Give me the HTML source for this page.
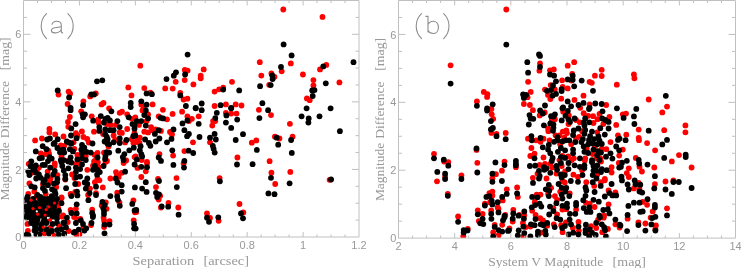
<!DOCTYPE html>
<html><head><meta charset="utf-8"><style>
html,body{margin:0;padding:0;background:#fff;width:741px;height:268px;overflow:hidden}
svg{display:block;will-change:transform}
.tl{font-family:"Liberation Sans",sans-serif;font-size:11px;fill:#999999}
.at{font-family:"Liberation Serif",serif;font-size:12px;fill:#999999}
.pl{font-family:"Liberation Sans",sans-serif;font-size:30px;fill:#9c9c9c}
</style></head><body>
<svg width="741" height="268" viewBox="0 0 741 268">
<defs>
<clipPath id="ca"><rect x="23.5" y="0.5" width="335.5" height="236.5"/></clipPath>
<clipPath id="cb"><rect x="398.5" y="0.5" width="337.0" height="237.6"/></clipPath>
</defs>
<g clip-path="url(#ca)"><g fill="#f00"><circle cx="283.3" cy="9.5" r="2.9"/><circle cx="322.5" cy="16.9" r="2.9"/><circle cx="259.8" cy="62.2" r="2.9"/><circle cx="290.8" cy="63.4" r="2.9"/><circle cx="281.7" cy="71.3" r="2.9"/><circle cx="320" cy="69.4" r="2.9"/><circle cx="326.3" cy="64.9" r="2.9"/><circle cx="140.3" cy="65.7" r="2.9"/><circle cx="184.8" cy="70" r="2.9"/><circle cx="187.6" cy="70.6" r="2.9"/><circle cx="203.7" cy="69.4" r="2.9"/><circle cx="58.5" cy="94.6" r="2.9"/><circle cx="68.6" cy="91.6" r="2.9"/><circle cx="70.1" cy="93.7" r="2.9"/><circle cx="67.6" cy="104" r="2.9"/><circle cx="83.4" cy="101.3" r="2.9"/><circle cx="90.2" cy="96.4" r="2.9"/><circle cx="95.8" cy="93.4" r="2.9"/><circle cx="101.5" cy="104.4" r="2.9"/><circle cx="103.5" cy="102.9" r="2.9"/><circle cx="128.3" cy="87.4" r="2.9"/><circle cx="131.5" cy="95.4" r="2.9"/><circle cx="200.7" cy="75.7" r="2.9"/><circle cx="200.7" cy="78.3" r="2.9"/><circle cx="175.7" cy="81.8" r="2.9"/><circle cx="184.7" cy="80.1" r="2.9"/><circle cx="193.4" cy="84.4" r="2.9"/><circle cx="165.2" cy="88.4" r="2.9"/><circle cx="172.7" cy="88.6" r="2.9"/><circle cx="144.3" cy="88.1" r="2.9"/><circle cx="150.4" cy="92.7" r="2.9"/><circle cx="141.3" cy="104.4" r="2.9"/><circle cx="152.6" cy="104.4" r="2.9"/><circle cx="143.6" cy="107.8" r="2.9"/><circle cx="180.3" cy="93" r="2.9"/><circle cx="183.6" cy="99.5" r="2.9"/><circle cx="187.4" cy="98.7" r="2.9"/><circle cx="214.6" cy="91.6" r="2.9"/><circle cx="219.1" cy="89.3" r="2.9"/><circle cx="223.2" cy="87.7" r="2.9"/><circle cx="232" cy="81.8" r="2.9"/><circle cx="214.6" cy="106" r="2.9"/><circle cx="225.9" cy="104.4" r="2.9"/><circle cx="235.7" cy="104.4" r="2.9"/><circle cx="241.5" cy="105.5" r="2.9"/><circle cx="261.3" cy="75.6" r="2.9"/><circle cx="271.4" cy="73.3" r="2.9"/><circle cx="274.5" cy="76.8" r="2.9"/><circle cx="269.2" cy="84.8" r="2.9"/><circle cx="302.9" cy="74.5" r="2.9"/><circle cx="313.4" cy="80.1" r="2.9"/><circle cx="313.4" cy="85.4" r="2.9"/><circle cx="306.9" cy="98.4" r="2.9"/><circle cx="309.7" cy="100.2" r="2.9"/><circle cx="339.4" cy="82.4" r="2.9"/><circle cx="81.2" cy="111.3" r="2.9"/><circle cx="69.8" cy="117" r="2.9"/><circle cx="68" cy="121.9" r="2.9"/><circle cx="68.3" cy="126.8" r="2.9"/><circle cx="91.7" cy="116.3" r="2.9"/><circle cx="109.1" cy="108.3" r="2.9"/><circle cx="98.1" cy="119.6" r="2.9"/><circle cx="98.5" cy="122.6" r="2.9"/><circle cx="106.8" cy="124.1" r="2.9"/><circle cx="110.6" cy="124.9" r="2.9"/><circle cx="94" cy="131.7" r="2.9"/><circle cx="81.9" cy="131.4" r="2.9"/><circle cx="75.9" cy="133.2" r="2.9"/><circle cx="77.4" cy="135.5" r="2.9"/><circle cx="83.4" cy="137" r="2.9"/><circle cx="87.2" cy="138.9" r="2.9"/><circle cx="73.6" cy="142.3" r="2.9"/><circle cx="55.2" cy="134.4" r="2.9"/><circle cx="49.4" cy="129" r="2.9"/><circle cx="49.4" cy="132.4" r="2.9"/><circle cx="63.5" cy="136.5" r="2.9"/><circle cx="41.9" cy="138.5" r="2.9"/><circle cx="35.1" cy="140.4" r="2.9"/><circle cx="115.9" cy="124.9" r="2.9"/><circle cx="119.7" cy="112.8" r="2.9"/><circle cx="122" cy="111.7" r="2.9"/><circle cx="127.2" cy="114.3" r="2.9"/><circle cx="131.8" cy="118.8" r="2.9"/><circle cx="127.2" cy="129" r="2.9"/><circle cx="119.7" cy="132.4" r="2.9"/><circle cx="121.9" cy="132.9" r="2.9"/><circle cx="103.1" cy="134" r="2.9"/><circle cx="113.6" cy="135.5" r="2.9"/><circle cx="115.1" cy="140" r="2.9"/><circle cx="131.8" cy="139.2" r="2.9"/><circle cx="142.5" cy="110.5" r="2.9"/><circle cx="148.1" cy="114.3" r="2.9"/><circle cx="146.6" cy="121.1" r="2.9"/><circle cx="135.3" cy="117.3" r="2.9"/><circle cx="139" cy="124.9" r="2.9"/><circle cx="151.1" cy="127.1" r="2.9"/><circle cx="144.3" cy="131.7" r="2.9"/><circle cx="148.1" cy="132.4" r="2.9"/><circle cx="151.9" cy="130.2" r="2.9"/><circle cx="155.7" cy="129.4" r="2.9"/><circle cx="160.9" cy="130.9" r="2.9"/><circle cx="134.5" cy="133.2" r="2.9"/><circle cx="139.8" cy="137.7" r="2.9"/><circle cx="137.5" cy="140.7" r="2.9"/><circle cx="135.3" cy="142.3" r="2.9"/><circle cx="170" cy="132" r="2.9"/><circle cx="172" cy="134.4" r="2.9"/><circle cx="162.9" cy="109.8" r="2.9"/><circle cx="172.6" cy="113.9" r="2.9"/><circle cx="158.7" cy="116.3" r="2.9"/><circle cx="167" cy="119.3" r="2.9"/><circle cx="182.1" cy="111.7" r="2.9"/><circle cx="198.7" cy="116.3" r="2.9"/><circle cx="187.4" cy="116.3" r="2.9"/><circle cx="191.9" cy="118.8" r="2.9"/><circle cx="188.9" cy="121.1" r="2.9"/><circle cx="193" cy="142.3" r="2.9"/><circle cx="213.1" cy="121.1" r="2.9"/><circle cx="215.3" cy="121.1" r="2.9"/><circle cx="212.3" cy="125.6" r="2.9"/><circle cx="210" cy="142.3" r="2.9"/><circle cx="225.9" cy="112.8" r="2.9"/><circle cx="231.2" cy="113.6" r="2.9"/><circle cx="236.5" cy="113.6" r="2.9"/><circle cx="258.9" cy="109.8" r="2.9"/><circle cx="271" cy="115.1" r="2.9"/><circle cx="289.9" cy="123.8" r="2.9"/><circle cx="256.3" cy="140.4" r="2.9"/><circle cx="251.8" cy="142.7" r="2.9"/><circle cx="274.9" cy="136.7" r="2.9"/><circle cx="279.4" cy="138.5" r="2.9"/><circle cx="292.6" cy="136.7" r="2.9"/><circle cx="48.3" cy="150.7" r="2.9"/><circle cx="40.8" cy="153.3" r="2.9"/><circle cx="49.1" cy="153.7" r="2.9"/><circle cx="45.7" cy="154.1" r="2.9"/><circle cx="60.8" cy="145.4" r="2.9"/><circle cx="64.2" cy="145.8" r="2.9"/><circle cx="61.5" cy="156.4" r="2.9"/><circle cx="74.4" cy="148.8" r="2.9"/><circle cx="77.4" cy="154.9" r="2.9"/><circle cx="88.8" cy="142.5" r="2.9"/><circle cx="85.8" cy="156" r="2.9"/><circle cx="97.5" cy="153" r="2.9"/><circle cx="94.5" cy="154.8" r="2.9"/><circle cx="94.9" cy="160.9" r="2.9"/><circle cx="108.5" cy="146.5" r="2.9"/><circle cx="104" cy="152.6" r="2.9"/><circle cx="107" cy="160.9" r="2.9"/><circle cx="125.1" cy="142.4" r="2.9"/><circle cx="126.2" cy="160.5" r="2.9"/><circle cx="134.6" cy="157.1" r="2.9"/><circle cx="133.4" cy="143.1" r="2.9"/><circle cx="28.7" cy="163.8" r="2.9"/><circle cx="31.7" cy="172.8" r="2.9"/><circle cx="38.9" cy="167.6" r="2.9"/><circle cx="37" cy="169.8" r="2.9"/><circle cx="47.6" cy="171.7" r="2.9"/><circle cx="54.7" cy="163.4" r="2.9"/><circle cx="54.7" cy="165.7" r="2.9"/><circle cx="57.4" cy="175.1" r="2.9"/><circle cx="50.6" cy="178.5" r="2.9"/><circle cx="67.6" cy="160.8" r="2.9"/><circle cx="75.9" cy="163.8" r="2.9"/><circle cx="72.1" cy="174.4" r="2.9"/><circle cx="74.4" cy="178.1" r="2.9"/><circle cx="79.5" cy="163.5" r="2.9"/><circle cx="87.3" cy="169.8" r="2.9"/><circle cx="94.1" cy="161.5" r="2.9"/><circle cx="97.9" cy="162.3" r="2.9"/><circle cx="93" cy="165.7" r="2.9"/><circle cx="98.7" cy="167.2" r="2.9"/><circle cx="97.5" cy="178.5" r="2.9"/><circle cx="105.5" cy="161.9" r="2.9"/><circle cx="123.6" cy="163" r="2.9"/><circle cx="116" cy="172.1" r="2.9"/><circle cx="116.8" cy="175.1" r="2.9"/><circle cx="118.7" cy="177" r="2.9"/><circle cx="121.7" cy="172.8" r="2.9"/><circle cx="110.4" cy="178.5" r="2.9"/><circle cx="139.5" cy="143" r="2.9"/><circle cx="135.6" cy="156.4" r="2.9"/><circle cx="141.7" cy="160.1" r="2.9"/><circle cx="147" cy="161.8" r="2.9"/><circle cx="173.1" cy="155.6" r="2.9"/><circle cx="159.5" cy="154.1" r="2.9"/><circle cx="184.4" cy="151.1" r="2.9"/><circle cx="237.4" cy="157.5" r="2.9"/><circle cx="147" cy="163.4" r="2.9"/><circle cx="137.5" cy="167.9" r="2.9"/><circle cx="145.8" cy="171.3" r="2.9"/><circle cx="141.3" cy="177" r="2.9"/><circle cx="183.6" cy="163.4" r="2.9"/><circle cx="158" cy="178.9" r="2.9"/><circle cx="176.5" cy="178.1" r="2.9"/><circle cx="219.6" cy="178.1" r="2.9"/><circle cx="269.6" cy="161.2" r="2.9"/><circle cx="271.4" cy="172.7" r="2.9"/><circle cx="290.3" cy="171.9" r="2.9"/><circle cx="329.6" cy="179.8" r="2.9"/><circle cx="29.4" cy="183.3" r="2.9"/><circle cx="34.3" cy="191.6" r="2.9"/><circle cx="28.3" cy="193.9" r="2.9"/><circle cx="43" cy="184.4" r="2.9"/><circle cx="45.7" cy="193.9" r="2.9"/><circle cx="50.2" cy="181.8" r="2.9"/><circle cx="56.3" cy="187.1" r="2.9"/><circle cx="61.5" cy="197.3" r="2.9"/><circle cx="65.3" cy="179.5" r="2.9"/><circle cx="78.2" cy="184" r="2.9"/><circle cx="70.6" cy="193.9" r="2.9"/><circle cx="75.2" cy="192" r="2.9"/><circle cx="90" cy="188.6" r="2.9"/><circle cx="88.1" cy="195" r="2.9"/><circle cx="99.4" cy="180.3" r="2.9"/><circle cx="94.9" cy="182.2" r="2.9"/><circle cx="102.8" cy="187.4" r="2.9"/><circle cx="96" cy="193.1" r="2.9"/><circle cx="117.2" cy="192.7" r="2.9"/><circle cx="57.8" cy="204" r="2.9"/><circle cx="58.2" cy="208.2" r="2.9"/><circle cx="46.6" cy="210.5" r="2.9"/><circle cx="33" cy="211.5" r="2.9"/><circle cx="38.1" cy="214.5" r="2.9"/><circle cx="61.5" cy="198.3" r="2.9"/><circle cx="63.1" cy="215.3" r="2.9"/><circle cx="70.6" cy="210" r="2.9"/><circle cx="75.9" cy="208.8" r="2.9"/><circle cx="92.2" cy="209.6" r="2.9"/><circle cx="105.8" cy="202.4" r="2.9"/><circle cx="101.7" cy="205.4" r="2.9"/><circle cx="106.6" cy="208.8" r="2.9"/><circle cx="119.4" cy="202.4" r="2.9"/><circle cx="133.4" cy="200.5" r="2.9"/><circle cx="134.9" cy="212.3" r="2.9"/><circle cx="156" cy="187.1" r="2.9"/><circle cx="158.7" cy="199.5" r="2.9"/><circle cx="160.2" cy="195.8" r="2.9"/><circle cx="168.5" cy="202.9" r="2.9"/><circle cx="160.9" cy="207.5" r="2.9"/><circle cx="178.3" cy="207.5" r="2.9"/><circle cx="136.3" cy="212" r="2.9"/><circle cx="207" cy="213.5" r="2.9"/><circle cx="239.5" cy="204" r="2.9"/><circle cx="243.3" cy="212.4" r="2.9"/><circle cx="275.2" cy="184" r="2.9"/><circle cx="27.5" cy="223.9" r="2.9"/><circle cx="27.9" cy="231" r="2.9"/><circle cx="35.1" cy="220.7" r="2.9"/><circle cx="48.1" cy="220.7" r="2.9"/><circle cx="50.8" cy="227.4" r="2.9"/><circle cx="59.3" cy="226.5" r="2.9"/><circle cx="62.4" cy="216.7" r="2.9"/><circle cx="67.8" cy="222.1" r="2.9"/><circle cx="74.1" cy="217.1" r="2.9"/><circle cx="77.7" cy="219.4" r="2.9"/><circle cx="53.5" cy="235.5" r="2.9"/><circle cx="44.5" cy="233.3" r="2.9"/><circle cx="76.8" cy="235.1" r="2.9"/><circle cx="68.6" cy="231" r="2.9"/><circle cx="91.1" cy="225" r="2.9"/><circle cx="80.3" cy="218.9" r="2.9"/><circle cx="83.5" cy="227.4" r="2.9"/><circle cx="79.5" cy="234" r="2.9"/><circle cx="103.6" cy="217.6" r="2.9"/><circle cx="104.1" cy="220.7" r="2.9"/><circle cx="109.5" cy="221.2" r="2.9"/><circle cx="104.1" cy="227" r="2.9"/><circle cx="133.7" cy="220.3" r="2.9"/><circle cx="210" cy="218" r="2.9"/><circle cx="218.6" cy="220.8" r="2.9"/><circle cx="49.5" cy="200.3" r="2.9"/><circle cx="36.5" cy="196.8" r="2.9"/></g><g fill="#000"><circle cx="283.6" cy="44.4" r="2.9"/><circle cx="291.6" cy="55.4" r="2.9"/><circle cx="281" cy="67" r="2.9"/><circle cx="323.3" cy="66.4" r="2.9"/><circle cx="353.5" cy="62.2" r="2.9"/><circle cx="187.6" cy="54.6" r="2.9"/><circle cx="97" cy="81.3" r="2.9"/><circle cx="102.3" cy="80.3" r="2.9"/><circle cx="57.7" cy="90.4" r="2.9"/><circle cx="69.1" cy="97.5" r="2.9"/><circle cx="70.6" cy="107.8" r="2.9"/><circle cx="83.1" cy="105.2" r="2.9"/><circle cx="91.3" cy="94.5" r="2.9"/><circle cx="94" cy="94.5" r="2.9"/><circle cx="130.7" cy="102.9" r="2.9"/><circle cx="130.7" cy="107" r="2.9"/><circle cx="176" cy="72.3" r="2.9"/><circle cx="173.8" cy="75.7" r="2.9"/><circle cx="185.1" cy="74.5" r="2.9"/><circle cx="166.5" cy="79.1" r="2.9"/><circle cx="146.6" cy="93.4" r="2.9"/><circle cx="151.9" cy="94.2" r="2.9"/><circle cx="141.3" cy="101.3" r="2.9"/><circle cx="146.6" cy="104.7" r="2.9"/><circle cx="180.3" cy="95.4" r="2.9"/><circle cx="185.9" cy="106" r="2.9"/><circle cx="201.7" cy="103.5" r="2.9"/><circle cx="195.7" cy="107.8" r="2.9"/><circle cx="223.2" cy="89.6" r="2.9"/><circle cx="239.2" cy="90.4" r="2.9"/><circle cx="220.6" cy="105.2" r="2.9"/><circle cx="231.2" cy="107.8" r="2.9"/><circle cx="272.2" cy="75.3" r="2.9"/><circle cx="272.6" cy="79.1" r="2.9"/><circle cx="260.1" cy="86.2" r="2.9"/><circle cx="270.7" cy="85.1" r="2.9"/><circle cx="312.2" cy="90.4" r="2.9"/><circle cx="314.5" cy="90.1" r="2.9"/><circle cx="312.7" cy="96" r="2.9"/><circle cx="325.8" cy="83.3" r="2.9"/><circle cx="262.4" cy="103.2" r="2.9"/><circle cx="70.6" cy="110.2" r="2.9"/><circle cx="82.7" cy="114.3" r="2.9"/><circle cx="84.9" cy="114.3" r="2.9"/><circle cx="83.1" cy="117.3" r="2.9"/><circle cx="75.6" cy="124.1" r="2.9"/><circle cx="71.3" cy="128.4" r="2.9"/><circle cx="100.8" cy="116.1" r="2.9"/><circle cx="93.2" cy="120.7" r="2.9"/><circle cx="111.4" cy="111.3" r="2.9"/><circle cx="105.3" cy="118.8" r="2.9"/><circle cx="107.6" cy="117.8" r="2.9"/><circle cx="109.9" cy="120.4" r="2.9"/><circle cx="103.8" cy="122.6" r="2.9"/><circle cx="99.3" cy="127.1" r="2.9"/><circle cx="99.3" cy="130.9" r="2.9"/><circle cx="105.3" cy="129.4" r="2.9"/><circle cx="109.9" cy="130.2" r="2.9"/><circle cx="105.3" cy="134.4" r="2.9"/><circle cx="71" cy="135.5" r="2.9"/><circle cx="76.6" cy="138.2" r="2.9"/><circle cx="92.5" cy="143.5" r="2.9"/><circle cx="66.8" cy="141.5" r="2.9"/><circle cx="69.1" cy="142.7" r="2.9"/><circle cx="57.7" cy="139.2" r="2.9"/><circle cx="47.2" cy="139.5" r="2.9"/><circle cx="49.9" cy="138.5" r="2.9"/><circle cx="54.7" cy="143" r="2.9"/><circle cx="117.4" cy="121.1" r="2.9"/><circle cx="119.7" cy="127.1" r="2.9"/><circle cx="128.7" cy="117.3" r="2.9"/><circle cx="132.5" cy="124.1" r="2.9"/><circle cx="113.6" cy="130.2" r="2.9"/><circle cx="106.8" cy="137" r="2.9"/><circle cx="107.6" cy="139.2" r="2.9"/><circle cx="104.6" cy="141.5" r="2.9"/><circle cx="119.7" cy="138.5" r="2.9"/><circle cx="126.5" cy="140" r="2.9"/><circle cx="133.3" cy="136.2" r="2.9"/><circle cx="113.6" cy="142.3" r="2.9"/><circle cx="119.7" cy="143" r="2.9"/><circle cx="145.8" cy="110.5" r="2.9"/><circle cx="144.3" cy="115.1" r="2.9"/><circle cx="148.1" cy="118.4" r="2.9"/><circle cx="136.8" cy="121.1" r="2.9"/><circle cx="141.3" cy="121.1" r="2.9"/><circle cx="145.8" cy="125.6" r="2.9"/><circle cx="134.5" cy="124.9" r="2.9"/><circle cx="134.5" cy="128.7" r="2.9"/><circle cx="158.7" cy="130.2" r="2.9"/><circle cx="154.9" cy="133.9" r="2.9"/><circle cx="135.3" cy="135.5" r="2.9"/><circle cx="145.1" cy="139.5" r="2.9"/><circle cx="148.9" cy="143" r="2.9"/><circle cx="155.7" cy="141.5" r="2.9"/><circle cx="159.4" cy="138.5" r="2.9"/><circle cx="167" cy="142.3" r="2.9"/><circle cx="171.5" cy="138.9" r="2.9"/><circle cx="173.5" cy="129.4" r="2.9"/><circle cx="160.6" cy="117.8" r="2.9"/><circle cx="163.2" cy="118.4" r="2.9"/><circle cx="195.7" cy="108.3" r="2.9"/><circle cx="201.7" cy="110.2" r="2.9"/><circle cx="187.4" cy="120.4" r="2.9"/><circle cx="182.5" cy="123.4" r="2.9"/><circle cx="198.7" cy="123.8" r="2.9"/><circle cx="184.4" cy="130.2" r="2.9"/><circle cx="188.9" cy="133.9" r="2.9"/><circle cx="187.1" cy="136.2" r="2.9"/><circle cx="199.5" cy="137" r="2.9"/><circle cx="216.8" cy="112.8" r="2.9"/><circle cx="215.3" cy="118.1" r="2.9"/><circle cx="210" cy="137.7" r="2.9"/><circle cx="214.6" cy="133.9" r="2.9"/><circle cx="215.8" cy="139.5" r="2.9"/><circle cx="226.4" cy="115.4" r="2.9"/><circle cx="231.2" cy="108.3" r="2.9"/><circle cx="237.2" cy="119.6" r="2.9"/><circle cx="225.9" cy="122.6" r="2.9"/><circle cx="231.2" cy="127.9" r="2.9"/><circle cx="243" cy="134.2" r="2.9"/><circle cx="235.7" cy="140" r="2.9"/><circle cx="268.1" cy="110.2" r="2.9"/><circle cx="259.4" cy="118.1" r="2.9"/><circle cx="306.6" cy="108.3" r="2.9"/><circle cx="330.6" cy="108.3" r="2.9"/><circle cx="301.6" cy="116.3" r="2.9"/><circle cx="308.7" cy="118.4" r="2.9"/><circle cx="308.4" cy="122.6" r="2.9"/><circle cx="319.5" cy="116.3" r="2.9"/><circle cx="339.9" cy="131.2" r="2.9"/><circle cx="276.7" cy="137.7" r="2.9"/><circle cx="291.1" cy="140" r="2.9"/><circle cx="53.6" cy="143.9" r="2.9"/><circle cx="71.4" cy="143.5" r="2.9"/><circle cx="42.7" cy="146.2" r="2.9"/><circle cx="46.4" cy="149.2" r="2.9"/><circle cx="35.8" cy="151.4" r="2.9"/><circle cx="39.6" cy="158.3" r="2.9"/><circle cx="41.9" cy="157.9" r="2.9"/><circle cx="49.5" cy="157.1" r="2.9"/><circle cx="51.7" cy="158.6" r="2.9"/><circle cx="31.3" cy="161.3" r="2.9"/><circle cx="57.4" cy="148" r="2.9"/><circle cx="60.8" cy="150.3" r="2.9"/><circle cx="63.4" cy="149.6" r="2.9"/><circle cx="64.2" cy="152.6" r="2.9"/><circle cx="60" cy="152.2" r="2.9"/><circle cx="69.9" cy="149.2" r="2.9"/><circle cx="72.9" cy="151.4" r="2.9"/><circle cx="77.4" cy="159.4" r="2.9"/><circle cx="70.6" cy="157.5" r="2.9"/><circle cx="60.8" cy="160.1" r="2.9"/><circle cx="63.8" cy="160.1" r="2.9"/><circle cx="82" cy="145" r="2.9"/><circle cx="84.3" cy="147.7" r="2.9"/><circle cx="81.3" cy="149.6" r="2.9"/><circle cx="86.6" cy="151.8" r="2.9"/><circle cx="90.7" cy="152.6" r="2.9"/><circle cx="82" cy="153.3" r="2.9"/><circle cx="82" cy="158.3" r="2.9"/><circle cx="85.8" cy="160.1" r="2.9"/><circle cx="97.5" cy="157.5" r="2.9"/><circle cx="107.5" cy="143.5" r="2.9"/><circle cx="109.2" cy="144.3" r="2.9"/><circle cx="106.6" cy="152.2" r="2.9"/><circle cx="109.2" cy="152.6" r="2.9"/><circle cx="105.5" cy="156" r="2.9"/><circle cx="105.1" cy="159" r="2.9"/><circle cx="118.3" cy="150.7" r="2.9"/><circle cx="124.4" cy="154.1" r="2.9"/><circle cx="122.8" cy="157.1" r="2.9"/><circle cx="123.6" cy="160.1" r="2.9"/><circle cx="129.3" cy="150.3" r="2.9"/><circle cx="133.8" cy="147.7" r="2.9"/><circle cx="30.6" cy="166" r="2.9"/><circle cx="28.3" cy="171.3" r="2.9"/><circle cx="31.3" cy="169.8" r="2.9"/><circle cx="29.4" cy="175.1" r="2.9"/><circle cx="35.8" cy="165.3" r="2.9"/><circle cx="34.3" cy="168.3" r="2.9"/><circle cx="35.5" cy="172.5" r="2.9"/><circle cx="38.9" cy="174.4" r="2.9"/><circle cx="36.2" cy="178.5" r="2.9"/><circle cx="40.8" cy="177.8" r="2.9"/><circle cx="42.7" cy="164.9" r="2.9"/><circle cx="44.9" cy="164.9" r="2.9"/><circle cx="48" cy="161.1" r="2.9"/><circle cx="50.2" cy="167.6" r="2.9"/><circle cx="47.2" cy="175.9" r="2.9"/><circle cx="54.7" cy="171" r="2.9"/><circle cx="53.2" cy="174.7" r="2.9"/><circle cx="57.4" cy="178.9" r="2.9"/><circle cx="61.5" cy="162.3" r="2.9"/><circle cx="62.3" cy="166" r="2.9"/><circle cx="63.8" cy="170.6" r="2.9"/><circle cx="65.3" cy="175.1" r="2.9"/><circle cx="65.3" cy="178.9" r="2.9"/><circle cx="68.4" cy="168.3" r="2.9"/><circle cx="68.4" cy="161.5" r="2.9"/><circle cx="71.4" cy="162.6" r="2.9"/><circle cx="75.9" cy="167.6" r="2.9"/><circle cx="75.9" cy="172.1" r="2.9"/><circle cx="75.9" cy="177.4" r="2.9"/><circle cx="82" cy="164.5" r="2.9"/><circle cx="80.1" cy="169.1" r="2.9"/><circle cx="80.1" cy="176.6" r="2.9"/><circle cx="87.3" cy="178.5" r="2.9"/><circle cx="94.9" cy="166" r="2.9"/><circle cx="93" cy="169.8" r="2.9"/><circle cx="97.5" cy="169.8" r="2.9"/><circle cx="99.8" cy="172.1" r="2.9"/><circle cx="97.1" cy="174.7" r="2.9"/><circle cx="103.6" cy="166" r="2.9"/><circle cx="125.1" cy="171.7" r="2.9"/><circle cx="115.7" cy="178.5" r="2.9"/><circle cx="134.6" cy="164.5" r="2.9"/><circle cx="140.6" cy="146.2" r="2.9"/><circle cx="139.8" cy="150.3" r="2.9"/><circle cx="141.3" cy="154.1" r="2.9"/><circle cx="142.1" cy="156.4" r="2.9"/><circle cx="136.8" cy="159.4" r="2.9"/><circle cx="150.4" cy="145.8" r="2.9"/><circle cx="172.3" cy="150.3" r="2.9"/><circle cx="158.7" cy="157.5" r="2.9"/><circle cx="161" cy="160.9" r="2.9"/><circle cx="188.6" cy="150.7" r="2.9"/><circle cx="184.4" cy="160.9" r="2.9"/><circle cx="193.2" cy="153" r="2.9"/><circle cx="212.8" cy="145.8" r="2.9"/><circle cx="213.6" cy="148.8" r="2.9"/><circle cx="214.7" cy="152.6" r="2.9"/><circle cx="141.3" cy="166.8" r="2.9"/><circle cx="147" cy="167.2" r="2.9"/><circle cx="173.4" cy="164.9" r="2.9"/><circle cx="184" cy="167.6" r="2.9"/><circle cx="237" cy="164.5" r="2.9"/><circle cx="278.2" cy="144.7" r="2.9"/><circle cx="256.8" cy="149.9" r="2.9"/><circle cx="291.8" cy="152.9" r="2.9"/><circle cx="252.6" cy="164.2" r="2.9"/><circle cx="271" cy="177.8" r="2.9"/><circle cx="331.1" cy="179.5" r="2.9"/><circle cx="45" cy="180" r="2.9"/><circle cx="31.3" cy="186.3" r="2.9"/><circle cx="34.7" cy="187.4" r="2.9"/><circle cx="27.5" cy="196.9" r="2.9"/><circle cx="37.4" cy="195" r="2.9"/><circle cx="40.4" cy="196.9" r="2.9"/><circle cx="43.4" cy="182.5" r="2.9"/><circle cx="43" cy="188.2" r="2.9"/><circle cx="44.9" cy="190.8" r="2.9"/><circle cx="47.9" cy="185.2" r="2.9"/><circle cx="54" cy="183.7" r="2.9"/><circle cx="57" cy="182.2" r="2.9"/><circle cx="52.1" cy="189.3" r="2.9"/><circle cx="54.7" cy="191.2" r="2.9"/><circle cx="55.5" cy="193.9" r="2.9"/><circle cx="51.7" cy="196.1" r="2.9"/><circle cx="66.1" cy="188.2" r="2.9"/><circle cx="75.2" cy="184" r="2.9"/><circle cx="71.4" cy="196.1" r="2.9"/><circle cx="77" cy="191.6" r="2.9"/><circle cx="77.4" cy="195.4" r="2.9"/><circle cx="84.7" cy="182.5" r="2.9"/><circle cx="87.3" cy="184" r="2.9"/><circle cx="85.8" cy="188.6" r="2.9"/><circle cx="89.6" cy="193.1" r="2.9"/><circle cx="96" cy="186.7" r="2.9"/><circle cx="96" cy="195" r="2.9"/><circle cx="117.5" cy="182.5" r="2.9"/><circle cx="121.7" cy="185.2" r="2.9"/><circle cx="121.7" cy="191.6" r="2.9"/><circle cx="117.2" cy="196.5" r="2.9"/><circle cx="110.4" cy="196.1" r="2.9"/><circle cx="134.9" cy="187.4" r="2.9"/><circle cx="27" cy="199" r="2.9"/><circle cx="33" cy="199" r="2.9"/><circle cx="40" cy="199" r="2.9"/><circle cx="44" cy="199" r="2.9"/><circle cx="48" cy="199" r="2.9"/><circle cx="53" cy="199" r="2.9"/><circle cx="57" cy="199" r="2.9"/><circle cx="27" cy="203" r="2.9"/><circle cx="31" cy="203" r="2.9"/><circle cx="36" cy="203" r="2.9"/><circle cx="41" cy="203" r="2.9"/><circle cx="46" cy="203" r="2.9"/><circle cx="51" cy="203" r="2.9"/><circle cx="55" cy="203" r="2.9"/><circle cx="26" cy="207" r="2.9"/><circle cx="30" cy="207" r="2.9"/><circle cx="35" cy="207" r="2.9"/><circle cx="40" cy="207" r="2.9"/><circle cx="44" cy="207" r="2.9"/><circle cx="50" cy="207" r="2.9"/><circle cx="54" cy="207" r="2.9"/><circle cx="27" cy="211" r="2.9"/><circle cx="31" cy="211" r="2.9"/><circle cx="36" cy="211" r="2.9"/><circle cx="40" cy="211" r="2.9"/><circle cx="45" cy="211" r="2.9"/><circle cx="50" cy="211" r="2.9"/><circle cx="55" cy="211" r="2.9"/><circle cx="59" cy="211" r="2.9"/><circle cx="27" cy="215" r="2.9"/><circle cx="32" cy="215" r="2.9"/><circle cx="37" cy="215" r="2.9"/><circle cx="42" cy="215" r="2.9"/><circle cx="47" cy="215" r="2.9"/><circle cx="52" cy="215" r="2.9"/><circle cx="57" cy="215" r="2.9"/><circle cx="61.5" cy="203.2" r="2.9"/><circle cx="76.7" cy="204.3" r="2.9"/><circle cx="71.4" cy="213" r="2.9"/><circle cx="76.7" cy="213.4" r="2.9"/><circle cx="88.4" cy="200.2" r="2.9"/><circle cx="92.2" cy="213" r="2.9"/><circle cx="93" cy="215.3" r="2.9"/><circle cx="102.4" cy="202" r="2.9"/><circle cx="104.7" cy="205.1" r="2.9"/><circle cx="103.2" cy="208.1" r="2.9"/><circle cx="104" cy="211.1" r="2.9"/><circle cx="104" cy="214.1" r="2.9"/><circle cx="117.9" cy="199.8" r="2.9"/><circle cx="119.8" cy="205.8" r="2.9"/><circle cx="132.3" cy="203.9" r="2.9"/><circle cx="134.6" cy="210.4" r="2.9"/><circle cx="145.8" cy="182.2" r="2.9"/><circle cx="142.1" cy="188.6" r="2.9"/><circle cx="146.6" cy="191.9" r="2.9"/><circle cx="159" cy="181" r="2.9"/><circle cx="156" cy="192.8" r="2.9"/><circle cx="159" cy="194.3" r="2.9"/><circle cx="157.2" cy="196.9" r="2.9"/><circle cx="176.8" cy="187.1" r="2.9"/><circle cx="161.7" cy="206.4" r="2.9"/><circle cx="168.2" cy="206.7" r="2.9"/><circle cx="178.6" cy="214.7" r="2.9"/><circle cx="136.3" cy="210" r="2.9"/><circle cx="219.9" cy="181.3" r="2.9"/><circle cx="241" cy="213.5" r="2.9"/><circle cx="289.6" cy="183.3" r="2.9"/><circle cx="268.4" cy="193.4" r="2.9"/><circle cx="274.5" cy="194.2" r="2.9"/><circle cx="26.6" cy="217.6" r="2.9"/><circle cx="31.1" cy="216.7" r="2.9"/><circle cx="34.6" cy="217.6" r="2.9"/><circle cx="40.9" cy="215.8" r="2.9"/><circle cx="46.3" cy="216.7" r="2.9"/><circle cx="52.6" cy="216.7" r="2.9"/><circle cx="57" cy="218.5" r="2.9"/><circle cx="66.9" cy="217.6" r="2.9"/><circle cx="31.1" cy="223" r="2.9"/><circle cx="36.4" cy="223" r="2.9"/><circle cx="41.8" cy="223.9" r="2.9"/><circle cx="46.3" cy="223" r="2.9"/><circle cx="52.6" cy="223.9" r="2.9"/><circle cx="57" cy="223" r="2.9"/><circle cx="63.3" cy="223" r="2.9"/><circle cx="34.5" cy="230.5" r="2.9"/><circle cx="36.4" cy="229.2" r="2.9"/><circle cx="40.9" cy="229.2" r="2.9"/><circle cx="46.3" cy="229.2" r="2.9"/><circle cx="51.7" cy="231" r="2.9"/><circle cx="57" cy="230.1" r="2.9"/><circle cx="61.5" cy="229.2" r="2.9"/><circle cx="66" cy="227.4" r="2.9"/><circle cx="26.6" cy="234.6" r="2.9"/><circle cx="36.4" cy="234.6" r="2.9"/><circle cx="39.5" cy="234.5" r="2.9"/><circle cx="49" cy="233.5" r="2.9"/><circle cx="58.8" cy="234.6" r="2.9"/><circle cx="64.2" cy="233.7" r="2.9"/><circle cx="75.9" cy="223" r="2.9"/><circle cx="75" cy="231.9" r="2.9"/><circle cx="73.8" cy="232.5" r="2.9"/><circle cx="92.9" cy="217.1" r="2.9"/><circle cx="91.5" cy="223" r="2.9"/><circle cx="80.8" cy="220.3" r="2.9"/><circle cx="83" cy="223.9" r="2.9"/><circle cx="86.2" cy="228.3" r="2.9"/><circle cx="84.4" cy="230.6" r="2.9"/><circle cx="104.5" cy="224.6" r="2.9"/><circle cx="109.5" cy="224.6" r="2.9"/><circle cx="104.5" cy="233.3" r="2.9"/><circle cx="134.1" cy="223.9" r="2.9"/><circle cx="134.1" cy="228.3" r="2.9"/><circle cx="135.7" cy="228.6" r="2.9"/><circle cx="207" cy="217.7" r="2.9"/><circle cx="209" cy="221.8" r="2.9"/><circle cx="218.3" cy="217.3" r="2.9"/><circle cx="243" cy="218.3" r="2.9"/><circle cx="31.5" cy="219.5" r="2.9"/><circle cx="37.5" cy="219.8" r="2.9"/><circle cx="44" cy="220.3" r="2.9"/><circle cx="35" cy="226.3" r="2.9"/><circle cx="41" cy="226" r="2.9"/><circle cx="28.5" cy="235.5" r="2.9"/><circle cx="64.5" cy="222.5" r="2.9"/><circle cx="78.7" cy="229.7" r="2.9"/></g><g fill="#f00"><circle cx="31.2" cy="200.2" r="1.6"/><circle cx="33" cy="208.6" r="1.6"/><circle cx="39.6" cy="207.7" r="1.6"/><circle cx="46.1" cy="209.6" r="1.6"/><circle cx="48.9" cy="206.8" r="1.6"/><circle cx="54.5" cy="203" r="1.6"/><circle cx="50.7" cy="219.8" r="1.6"/><circle cx="45.1" cy="215.1" r="1.6"/><circle cx="37.7" cy="214.2" r="1.6"/><circle cx="43.3" cy="227.2" r="1.6"/><circle cx="59.1" cy="225.4" r="1.6"/><circle cx="62.8" cy="215.1" r="1.6"/></g><g fill="#fff"><circle cx="36.8" cy="211.4" r="1.1"/><circle cx="47.9" cy="217.9" r="1.1"/></g></g>
<g clip-path="url(#cb)"><g fill="#f00"><circle cx="506.3" cy="9.5" r="2.9"/><circle cx="450.6" cy="65.3" r="2.9"/><circle cx="540" cy="63.5" r="2.9"/><circle cx="539.4" cy="70.7" r="2.9"/><circle cx="550" cy="70.3" r="2.9"/><circle cx="553.8" cy="69.5" r="2.9"/><circle cx="567.7" cy="65.7" r="2.9"/><circle cx="574.2" cy="62.2" r="2.9"/><circle cx="601.7" cy="69.8" r="2.9"/><circle cx="483.8" cy="91.9" r="2.9"/><circle cx="487.4" cy="94.2" r="2.9"/><circle cx="487.1" cy="96.9" r="2.9"/><circle cx="476.9" cy="101.4" r="2.9"/><circle cx="572.2" cy="73.8" r="2.9"/><circle cx="571.4" cy="80.6" r="2.9"/><circle cx="562.1" cy="80.3" r="2.9"/><circle cx="550.7" cy="85.1" r="2.9"/><circle cx="545" cy="89.6" r="2.9"/><circle cx="554.8" cy="89.3" r="2.9"/><circle cx="548" cy="94.9" r="2.9"/><circle cx="550.3" cy="99" r="2.9"/><circle cx="562.7" cy="86.9" r="2.9"/><circle cx="567.7" cy="88.4" r="2.9"/><circle cx="561.2" cy="98.7" r="2.9"/><circle cx="574.5" cy="99.9" r="2.9"/><circle cx="594.9" cy="75.7" r="2.9"/><circle cx="601.7" cy="76" r="2.9"/><circle cx="589.6" cy="81.8" r="2.9"/><circle cx="591.8" cy="82.8" r="2.9"/><circle cx="583.5" cy="95.7" r="2.9"/><circle cx="616.8" cy="84.7" r="2.9"/><circle cx="580.2" cy="107.8" r="2.9"/><circle cx="589.6" cy="104.4" r="2.9"/><circle cx="606.2" cy="105" r="2.9"/><circle cx="527.6" cy="97.2" r="2.9"/><circle cx="530.7" cy="91.9" r="2.9"/><circle cx="528.1" cy="81.8" r="2.9"/><circle cx="523.9" cy="104" r="2.9"/><circle cx="529.9" cy="105" r="2.9"/><circle cx="633.9" cy="74.5" r="2.9"/><circle cx="634.4" cy="78.3" r="2.9"/><circle cx="648.7" cy="99.5" r="2.9"/><circle cx="667" cy="106.6" r="2.9"/><circle cx="491.4" cy="109" r="2.9"/><circle cx="491.7" cy="114.3" r="2.9"/><circle cx="493.2" cy="118.8" r="2.9"/><circle cx="491.4" cy="132.9" r="2.9"/><circle cx="496.5" cy="134" r="2.9"/><circle cx="505.7" cy="132.9" r="2.9"/><circle cx="532.9" cy="110.2" r="2.9"/><circle cx="544.7" cy="112.4" r="2.9"/><circle cx="539.7" cy="115.4" r="2.9"/><circle cx="554.9" cy="119.2" r="2.9"/><circle cx="551.8" cy="120" r="2.9"/><circle cx="563.2" cy="111.7" r="2.9"/><circle cx="568.9" cy="115.4" r="2.9"/><circle cx="568.5" cy="124.1" r="2.9"/><circle cx="576.1" cy="120" r="2.9"/><circle cx="583.7" cy="113.2" r="2.9"/><circle cx="588.2" cy="115.8" r="2.9"/><circle cx="593.1" cy="116.2" r="2.9"/><circle cx="579.9" cy="122.3" r="2.9"/><circle cx="593.5" cy="123" r="2.9"/><circle cx="597.6" cy="119.2" r="2.9"/><circle cx="599.5" cy="113.9" r="2.9"/><circle cx="609.4" cy="117" r="2.9"/><circle cx="603.3" cy="124.1" r="2.9"/><circle cx="616.2" cy="124.9" r="2.9"/><circle cx="548.1" cy="128.5" r="2.9"/><circle cx="548.4" cy="131.2" r="2.9"/><circle cx="555.6" cy="135.3" r="2.9"/><circle cx="559.4" cy="135.3" r="2.9"/><circle cx="549.6" cy="140.3" r="2.9"/><circle cx="562.8" cy="131.6" r="2.9"/><circle cx="528" cy="138.7" r="2.9"/><circle cx="536" cy="140.3" r="2.9"/><circle cx="543.5" cy="138.7" r="2.9"/><circle cx="540.5" cy="141.8" r="2.9"/><circle cx="566.3" cy="130.4" r="2.9"/><circle cx="567" cy="133.1" r="2.9"/><circle cx="564.4" cy="137.6" r="2.9"/><circle cx="579.1" cy="136.8" r="2.9"/><circle cx="576.1" cy="138.4" r="2.9"/><circle cx="582.1" cy="131.2" r="2.9"/><circle cx="597.3" cy="132.3" r="2.9"/><circle cx="618" cy="135.3" r="2.9"/><circle cx="610.5" cy="142.1" r="2.9"/><circle cx="622.8" cy="114.3" r="2.9"/><circle cx="626" cy="113.6" r="2.9"/><circle cx="662.3" cy="112.4" r="2.9"/><circle cx="638.7" cy="129.6" r="2.9"/><circle cx="664.2" cy="130.2" r="2.9"/><circle cx="685.4" cy="125.4" r="2.9"/><circle cx="685.4" cy="132.3" r="2.9"/><circle cx="626.3" cy="134.7" r="2.9"/><circle cx="638.7" cy="137.8" r="2.9"/><circle cx="639" cy="140.2" r="2.9"/><circle cx="647.1" cy="143.1" r="2.9"/><circle cx="434" cy="153.8" r="2.9"/><circle cx="444.1" cy="161.6" r="2.9"/><circle cx="448.3" cy="162.1" r="2.9"/><circle cx="445.1" cy="176.4" r="2.9"/><circle cx="461.4" cy="175.5" r="2.9"/><circle cx="476.5" cy="149.9" r="2.9"/><circle cx="477.3" cy="162.8" r="2.9"/><circle cx="504.5" cy="161.6" r="2.9"/><circle cx="501.9" cy="170.7" r="2.9"/><circle cx="495.9" cy="174.2" r="2.9"/><circle cx="492.4" cy="178.3" r="2.9"/><circle cx="531.4" cy="148" r="2.9"/><circle cx="534.5" cy="153.7" r="2.9"/><circle cx="530.3" cy="156" r="2.9"/><circle cx="543.5" cy="157.5" r="2.9"/><circle cx="560.2" cy="144.3" r="2.9"/><circle cx="559.4" cy="160.1" r="2.9"/><circle cx="562.4" cy="156" r="2.9"/><circle cx="571.2" cy="144.3" r="2.9"/><circle cx="568.2" cy="156.4" r="2.9"/><circle cx="573.8" cy="158.3" r="2.9"/><circle cx="571.6" cy="160.1" r="2.9"/><circle cx="586.7" cy="148.4" r="2.9"/><circle cx="585.2" cy="158.3" r="2.9"/><circle cx="584.8" cy="160.5" r="2.9"/><circle cx="595" cy="146.2" r="2.9"/><circle cx="592.7" cy="154.1" r="2.9"/><circle cx="596.5" cy="158.6" r="2.9"/><circle cx="600.3" cy="158.3" r="2.9"/><circle cx="606.3" cy="149.2" r="2.9"/><circle cx="601.8" cy="148.8" r="2.9"/><circle cx="619.2" cy="155.6" r="2.9"/><circle cx="515.9" cy="167.2" r="2.9"/><circle cx="539.7" cy="164.9" r="2.9"/><circle cx="545" cy="163.8" r="2.9"/><circle cx="550.3" cy="163.8" r="2.9"/><circle cx="552.2" cy="167.6" r="2.9"/><circle cx="537.5" cy="173.6" r="2.9"/><circle cx="532.9" cy="177.8" r="2.9"/><circle cx="546.5" cy="178.5" r="2.9"/><circle cx="556.4" cy="173.6" r="2.9"/><circle cx="561.7" cy="166" r="2.9"/><circle cx="565.1" cy="171.3" r="2.9"/><circle cx="573.4" cy="174.7" r="2.9"/><circle cx="578" cy="177" r="2.9"/><circle cx="582.1" cy="170.2" r="2.9"/><circle cx="597.3" cy="174.4" r="2.9"/><circle cx="601" cy="161.5" r="2.9"/><circle cx="611.6" cy="167.2" r="2.9"/><circle cx="611.6" cy="172.5" r="2.9"/><circle cx="604.8" cy="178.9" r="2.9"/><circle cx="618.8" cy="163" r="2.9"/><circle cx="622.8" cy="149.6" r="2.9"/><circle cx="655.1" cy="150.3" r="2.9"/><circle cx="635.8" cy="157.9" r="2.9"/><circle cx="639.5" cy="166.7" r="2.9"/><circle cx="628.8" cy="168.3" r="2.9"/><circle cx="641.9" cy="171.5" r="2.9"/><circle cx="654.3" cy="167.5" r="2.9"/><circle cx="671.8" cy="161.4" r="2.9"/><circle cx="679" cy="155.1" r="2.9"/><circle cx="691.6" cy="167.5" r="2.9"/><circle cx="626.8" cy="173.1" r="2.9"/><circle cx="628.8" cy="177" r="2.9"/><circle cx="437" cy="181.3" r="2.9"/><circle cx="447.8" cy="193.9" r="2.9"/><circle cx="492.4" cy="191.6" r="2.9"/><circle cx="489.4" cy="193.1" r="2.9"/><circle cx="492.4" cy="195.4" r="2.9"/><circle cx="490.1" cy="202.2" r="2.9"/><circle cx="484.9" cy="203.7" r="2.9"/><circle cx="497.7" cy="207.5" r="2.9"/><circle cx="498.5" cy="209" r="2.9"/><circle cx="506.8" cy="189.3" r="2.9"/><circle cx="502.7" cy="200.4" r="2.9"/><circle cx="477.8" cy="210.5" r="2.9"/><circle cx="482.6" cy="214" r="2.9"/><circle cx="491.2" cy="210.5" r="2.9"/><circle cx="517.1" cy="187.4" r="2.9"/><circle cx="517.8" cy="196.9" r="2.9"/><circle cx="551.1" cy="187.8" r="2.9"/><circle cx="536.7" cy="194.6" r="2.9"/><circle cx="540.5" cy="194.6" r="2.9"/><circle cx="548.1" cy="193.9" r="2.9"/><circle cx="554.9" cy="196.1" r="2.9"/><circle cx="562.4" cy="181" r="2.9"/><circle cx="560.2" cy="191.6" r="2.9"/><circle cx="569.7" cy="193.5" r="2.9"/><circle cx="564.8" cy="182.5" r="2.9"/><circle cx="586.3" cy="182.2" r="2.9"/><circle cx="594.2" cy="185.9" r="2.9"/><circle cx="601" cy="182.2" r="2.9"/><circle cx="604.8" cy="180.3" r="2.9"/><circle cx="608.6" cy="190.5" r="2.9"/><circle cx="615.4" cy="192.4" r="2.9"/><circle cx="557.1" cy="199.8" r="2.9"/><circle cx="534.8" cy="202" r="2.9"/><circle cx="532.2" cy="210.7" r="2.9"/><circle cx="535.6" cy="214.9" r="2.9"/><circle cx="513.3" cy="210" r="2.9"/><circle cx="519.3" cy="214.9" r="2.9"/><circle cx="524.3" cy="215.3" r="2.9"/><circle cx="553.4" cy="208.1" r="2.9"/><circle cx="557.1" cy="214.5" r="2.9"/><circle cx="562.4" cy="209.6" r="2.9"/><circle cx="566.3" cy="209.2" r="2.9"/><circle cx="576.1" cy="209.6" r="2.9"/><circle cx="585.9" cy="202.8" r="2.9"/><circle cx="589.7" cy="203.6" r="2.9"/><circle cx="594.6" cy="207" r="2.9"/><circle cx="608.6" cy="204.3" r="2.9"/><circle cx="604.1" cy="215.7" r="2.9"/><circle cx="638.7" cy="182.8" r="2.9"/><circle cx="633.9" cy="188.4" r="2.9"/><circle cx="639.5" cy="189.1" r="2.9"/><circle cx="654.9" cy="184.1" r="2.9"/><circle cx="665.5" cy="181.5" r="2.9"/><circle cx="673.4" cy="180.4" r="2.9"/><circle cx="642.7" cy="201.9" r="2.9"/><circle cx="647.1" cy="204.8" r="2.9"/><circle cx="667" cy="208.3" r="2.9"/><circle cx="652.7" cy="211.4" r="2.9"/><circle cx="458.1" cy="216.5" r="2.9"/><circle cx="467.8" cy="228.9" r="2.9"/><circle cx="463.3" cy="236.2" r="2.9"/><circle cx="478.8" cy="221.1" r="2.9"/><circle cx="505.3" cy="215" r="2.9"/><circle cx="502.2" cy="224.8" r="2.9"/><circle cx="494.7" cy="224.8" r="2.9"/><circle cx="493.2" cy="232.4" r="2.9"/><circle cx="498.5" cy="235.4" r="2.9"/><circle cx="512.7" cy="221.5" r="2.9"/><circle cx="522.9" cy="222.9" r="2.9"/><circle cx="525.7" cy="227.1" r="2.9"/><circle cx="523.4" cy="236.4" r="2.9"/><circle cx="509.4" cy="228.5" r="2.9"/><circle cx="540.2" cy="218.2" r="2.9"/><circle cx="543" cy="220.5" r="2.9"/><circle cx="530.4" cy="226.6" r="2.9"/><circle cx="547.2" cy="225.7" r="2.9"/><circle cx="540.7" cy="232.7" r="2.9"/><circle cx="553.8" cy="224.3" r="2.9"/><circle cx="561.2" cy="225.2" r="2.9"/><circle cx="562.6" cy="232.2" r="2.9"/><circle cx="565.9" cy="222.4" r="2.9"/><circle cx="572.9" cy="228" r="2.9"/><circle cx="578.5" cy="221.9" r="2.9"/><circle cx="578.9" cy="230.8" r="2.9"/><circle cx="591.1" cy="226.1" r="2.9"/><circle cx="589.2" cy="233.6" r="2.9"/><circle cx="596.2" cy="228" r="2.9"/><circle cx="603.7" cy="217.7" r="2.9"/><circle cx="598.1" cy="219.6" r="2.9"/><circle cx="607.9" cy="228.9" r="2.9"/><circle cx="602.3" cy="232.2" r="2.9"/><circle cx="615.4" cy="224.3" r="2.9"/><circle cx="619.6" cy="227.5" r="2.9"/><circle cx="627.6" cy="218.7" r="2.9"/><circle cx="650.6" cy="217.6" r="2.9"/><circle cx="638.4" cy="222.4" r="2.9"/><circle cx="645.4" cy="223.5" r="2.9"/><circle cx="655.9" cy="225.5" r="2.9"/><circle cx="655.4" cy="229.2" r="2.9"/></g><g fill="#000"><circle cx="506.3" cy="44.6" r="2.9"/><circle cx="539" cy="54.4" r="2.9"/><circle cx="540" cy="55.9" r="2.9"/><circle cx="527.3" cy="62.2" r="2.9"/><circle cx="540" cy="66.9" r="2.9"/><circle cx="450.6" cy="83.6" r="2.9"/><circle cx="476.9" cy="105.8" r="2.9"/><circle cx="492.7" cy="104.3" r="2.9"/><circle cx="528.1" cy="72.7" r="2.9"/><circle cx="550" cy="74.5" r="2.9"/><circle cx="554.1" cy="75.7" r="2.9"/><circle cx="572.7" cy="75.7" r="2.9"/><circle cx="567.7" cy="79.4" r="2.9"/><circle cx="572.7" cy="79.8" r="2.9"/><circle cx="556" cy="81.3" r="2.9"/><circle cx="553" cy="85.4" r="2.9"/><circle cx="547" cy="90.8" r="2.9"/><circle cx="551.1" cy="90.1" r="2.9"/><circle cx="552.6" cy="95.7" r="2.9"/><circle cx="556" cy="93.9" r="2.9"/><circle cx="561.6" cy="89.2" r="2.9"/><circle cx="561.6" cy="91.1" r="2.9"/><circle cx="574.2" cy="86.3" r="2.9"/><circle cx="567.7" cy="101.4" r="2.9"/><circle cx="571.1" cy="106.3" r="2.9"/><circle cx="563.1" cy="107.5" r="2.9"/><circle cx="581.7" cy="80.6" r="2.9"/><circle cx="593" cy="90.8" r="2.9"/><circle cx="578.5" cy="105" r="2.9"/><circle cx="583.5" cy="102.9" r="2.9"/><circle cx="589.6" cy="107.8" r="2.9"/><circle cx="595.3" cy="103.5" r="2.9"/><circle cx="601.7" cy="104" r="2.9"/><circle cx="523.1" cy="94.5" r="2.9"/><circle cx="526.1" cy="94.9" r="2.9"/><circle cx="523.9" cy="97.9" r="2.9"/><circle cx="545" cy="105.5" r="2.9"/><circle cx="665.8" cy="95.8" r="2.9"/><circle cx="487.1" cy="108.3" r="2.9"/><circle cx="487.1" cy="110.5" r="2.9"/><circle cx="490.9" cy="121.1" r="2.9"/><circle cx="492.9" cy="127.9" r="2.9"/><circle cx="490.9" cy="129.4" r="2.9"/><circle cx="496.5" cy="136.2" r="2.9"/><circle cx="505.7" cy="139.2" r="2.9"/><circle cx="540.1" cy="110.5" r="2.9"/><circle cx="542.8" cy="113.6" r="2.9"/><circle cx="529.5" cy="115.1" r="2.9"/><circle cx="530.7" cy="118.5" r="2.9"/><circle cx="533.3" cy="118.8" r="2.9"/><circle cx="528.8" cy="124.5" r="2.9"/><circle cx="551.1" cy="116.2" r="2.9"/><circle cx="554.9" cy="114.3" r="2.9"/><circle cx="553.4" cy="116.6" r="2.9"/><circle cx="550.3" cy="123.4" r="2.9"/><circle cx="553.4" cy="124.5" r="2.9"/><circle cx="543.9" cy="125.3" r="2.9"/><circle cx="562.4" cy="108.3" r="2.9"/><circle cx="561.7" cy="120.4" r="2.9"/><circle cx="567.8" cy="110.9" r="2.9"/><circle cx="565.5" cy="115.8" r="2.9"/><circle cx="568.5" cy="119.6" r="2.9"/><circle cx="570" cy="121.9" r="2.9"/><circle cx="574.6" cy="118.5" r="2.9"/><circle cx="589" cy="109" r="2.9"/><circle cx="585.2" cy="118.5" r="2.9"/><circle cx="583.7" cy="122.6" r="2.9"/><circle cx="589.3" cy="122.3" r="2.9"/><circle cx="602.5" cy="111.3" r="2.9"/><circle cx="602.2" cy="118.5" r="2.9"/><circle cx="605.2" cy="120" r="2.9"/><circle cx="608.6" cy="121.9" r="2.9"/><circle cx="616.9" cy="108.3" r="2.9"/><circle cx="553" cy="130.8" r="2.9"/><circle cx="553.4" cy="127.8" r="2.9"/><circle cx="557.5" cy="137.2" r="2.9"/><circle cx="557.5" cy="140.3" r="2.9"/><circle cx="554.1" cy="141.8" r="2.9"/><circle cx="562.4" cy="141.4" r="2.9"/><circle cx="531.4" cy="136.1" r="2.9"/><circle cx="531.8" cy="140.3" r="2.9"/><circle cx="540.5" cy="138" r="2.9"/><circle cx="565.5" cy="140.3" r="2.9"/><circle cx="569.3" cy="140.3" r="2.9"/><circle cx="573.8" cy="130.4" r="2.9"/><circle cx="578.4" cy="128.5" r="2.9"/><circle cx="573.1" cy="135" r="2.9"/><circle cx="582.9" cy="139.1" r="2.9"/><circle cx="575.3" cy="142.1" r="2.9"/><circle cx="581.4" cy="142.1" r="2.9"/><circle cx="584.4" cy="125.5" r="2.9"/><circle cx="585.2" cy="130" r="2.9"/><circle cx="584.4" cy="133.8" r="2.9"/><circle cx="592" cy="131.6" r="2.9"/><circle cx="590.1" cy="136.1" r="2.9"/><circle cx="589" cy="139.9" r="2.9"/><circle cx="594.2" cy="139.1" r="2.9"/><circle cx="598.4" cy="136.5" r="2.9"/><circle cx="599.5" cy="140.6" r="2.9"/><circle cx="600.3" cy="128.2" r="2.9"/><circle cx="604.8" cy="134.6" r="2.9"/><circle cx="608.6" cy="128.5" r="2.9"/><circle cx="618" cy="139.9" r="2.9"/><circle cx="636.3" cy="108.9" r="2.9"/><circle cx="623.6" cy="117.9" r="2.9"/><circle cx="633.9" cy="116.4" r="2.9"/><circle cx="634.4" cy="124" r="2.9"/><circle cx="648.7" cy="130.7" r="2.9"/><circle cx="619.6" cy="138.6" r="2.9"/><circle cx="625.6" cy="140.2" r="2.9"/><circle cx="667" cy="139.9" r="2.9"/><circle cx="434" cy="158.3" r="2.9"/><circle cx="443.8" cy="159.7" r="2.9"/><circle cx="448.3" cy="165.7" r="2.9"/><circle cx="437.3" cy="171.9" r="2.9"/><circle cx="445.1" cy="173.7" r="2.9"/><circle cx="445.1" cy="179" r="2.9"/><circle cx="461.4" cy="179" r="2.9"/><circle cx="476.5" cy="148.5" r="2.9"/><circle cx="477.3" cy="172.5" r="2.9"/><circle cx="495.4" cy="162.4" r="2.9"/><circle cx="504.5" cy="165.1" r="2.9"/><circle cx="492.4" cy="173.7" r="2.9"/><circle cx="542.8" cy="147.3" r="2.9"/><circle cx="534.5" cy="158.3" r="2.9"/><circle cx="515.9" cy="160.9" r="2.9"/><circle cx="548.8" cy="145" r="2.9"/><circle cx="548.1" cy="149.6" r="2.9"/><circle cx="550.3" cy="153.3" r="2.9"/><circle cx="552.6" cy="157.9" r="2.9"/><circle cx="551.8" cy="160.9" r="2.9"/><circle cx="560.9" cy="148" r="2.9"/><circle cx="557.9" cy="151.8" r="2.9"/><circle cx="560.9" cy="157.1" r="2.9"/><circle cx="565.1" cy="150.3" r="2.9"/><circle cx="573.1" cy="149.6" r="2.9"/><circle cx="573.1" cy="153.3" r="2.9"/><circle cx="565.1" cy="157.9" r="2.9"/><circle cx="579.9" cy="158.3" r="2.9"/><circle cx="583.7" cy="146.5" r="2.9"/><circle cx="584.4" cy="151.8" r="2.9"/><circle cx="588.2" cy="153" r="2.9"/><circle cx="588.2" cy="144.3" r="2.9"/><circle cx="592.7" cy="143.5" r="2.9"/><circle cx="597.3" cy="144.3" r="2.9"/><circle cx="601.8" cy="143.9" r="2.9"/><circle cx="593.5" cy="149.6" r="2.9"/><circle cx="598" cy="151.1" r="2.9"/><circle cx="601" cy="152.6" r="2.9"/><circle cx="597.3" cy="155.2" r="2.9"/><circle cx="592" cy="160.1" r="2.9"/><circle cx="599.5" cy="160.1" r="2.9"/><circle cx="606" cy="156.7" r="2.9"/><circle cx="610.5" cy="153.3" r="2.9"/><circle cx="612.4" cy="158.6" r="2.9"/><circle cx="616.2" cy="146.5" r="2.9"/><circle cx="619.2" cy="150.3" r="2.9"/><circle cx="515.9" cy="163.8" r="2.9"/><circle cx="515.9" cy="165.3" r="2.9"/><circle cx="529.9" cy="166" r="2.9"/><circle cx="535.2" cy="165.7" r="2.9"/><circle cx="543.9" cy="167.2" r="2.9"/><circle cx="546.5" cy="168.3" r="2.9"/><circle cx="544.3" cy="169.8" r="2.9"/><circle cx="539" cy="171" r="2.9"/><circle cx="539.7" cy="175.9" r="2.9"/><circle cx="539" cy="178.5" r="2.9"/><circle cx="550.3" cy="172.8" r="2.9"/><circle cx="556.4" cy="166" r="2.9"/><circle cx="557.1" cy="169.8" r="2.9"/><circle cx="560.9" cy="163" r="2.9"/><circle cx="560.9" cy="174.4" r="2.9"/><circle cx="561.7" cy="177.4" r="2.9"/><circle cx="568.5" cy="163" r="2.9"/><circle cx="568.5" cy="169.1" r="2.9"/><circle cx="564.8" cy="175.1" r="2.9"/><circle cx="574.6" cy="165.3" r="2.9"/><circle cx="579.9" cy="166.8" r="2.9"/><circle cx="584.4" cy="165.3" r="2.9"/><circle cx="584.4" cy="167.9" r="2.9"/><circle cx="582.5" cy="175.1" r="2.9"/><circle cx="592" cy="162.3" r="2.9"/><circle cx="593.5" cy="166" r="2.9"/><circle cx="593.5" cy="170.6" r="2.9"/><circle cx="592.7" cy="175.1" r="2.9"/><circle cx="597.3" cy="165.3" r="2.9"/><circle cx="596.5" cy="170.6" r="2.9"/><circle cx="596.5" cy="178.5" r="2.9"/><circle cx="601.8" cy="169.1" r="2.9"/><circle cx="601" cy="172.1" r="2.9"/><circle cx="606.7" cy="170.2" r="2.9"/><circle cx="619.2" cy="167.6" r="2.9"/><circle cx="662.3" cy="144.4" r="2.9"/><circle cx="638.7" cy="159.8" r="2.9"/><circle cx="639.2" cy="163.5" r="2.9"/><circle cx="626.8" cy="160.8" r="2.9"/><circle cx="622" cy="162.7" r="2.9"/><circle cx="620.9" cy="166.7" r="2.9"/><circle cx="647.5" cy="164.6" r="2.9"/><circle cx="664.2" cy="157.9" r="2.9"/><circle cx="685.7" cy="154.7" r="2.9"/><circle cx="685.7" cy="157.1" r="2.9"/><circle cx="621.5" cy="176.7" r="2.9"/><circle cx="654.9" cy="176.2" r="2.9"/><circle cx="492.4" cy="181.8" r="2.9"/><circle cx="501.9" cy="181" r="2.9"/><circle cx="447.8" cy="195.8" r="2.9"/><circle cx="486.4" cy="196.9" r="2.9"/><circle cx="489.4" cy="196.1" r="2.9"/><circle cx="491.7" cy="200.7" r="2.9"/><circle cx="492.4" cy="204.4" r="2.9"/><circle cx="484.9" cy="205.5" r="2.9"/><circle cx="497.7" cy="202.2" r="2.9"/><circle cx="502.2" cy="196.9" r="2.9"/><circle cx="506.8" cy="193.9" r="2.9"/><circle cx="477.8" cy="214.3" r="2.9"/><circle cx="491.2" cy="213.8" r="2.9"/><circle cx="498.5" cy="212.4" r="2.9"/><circle cx="504.5" cy="215.8" r="2.9"/><circle cx="533" cy="182.9" r="2.9"/><circle cx="517.1" cy="193.5" r="2.9"/><circle cx="548.8" cy="184.8" r="2.9"/><circle cx="545.8" cy="189.3" r="2.9"/><circle cx="549.2" cy="190.8" r="2.9"/><circle cx="532.2" cy="196.9" r="2.9"/><circle cx="537.5" cy="197.3" r="2.9"/><circle cx="548.8" cy="196.1" r="2.9"/><circle cx="558.6" cy="184" r="2.9"/><circle cx="561.7" cy="187.8" r="2.9"/><circle cx="561.7" cy="194.6" r="2.9"/><circle cx="570.8" cy="181" r="2.9"/><circle cx="566.3" cy="187.8" r="2.9"/><circle cx="565.5" cy="191.6" r="2.9"/><circle cx="569.3" cy="196.1" r="2.9"/><circle cx="578" cy="181.8" r="2.9"/><circle cx="585.5" cy="187.4" r="2.9"/><circle cx="586.3" cy="190.5" r="2.9"/><circle cx="585.5" cy="195.8" r="2.9"/><circle cx="592.7" cy="182.2" r="2.9"/><circle cx="600.7" cy="185.9" r="2.9"/><circle cx="594.6" cy="192" r="2.9"/><circle cx="611.6" cy="184" r="2.9"/><circle cx="609.4" cy="193.1" r="2.9"/><circle cx="604.8" cy="196.5" r="2.9"/><circle cx="616.2" cy="195.4" r="2.9"/><circle cx="612.4" cy="195.4" r="2.9"/><circle cx="556.4" cy="203.2" r="2.9"/><circle cx="562.4" cy="198.5" r="2.9"/><circle cx="539.7" cy="203.6" r="2.9"/><circle cx="535.2" cy="205.1" r="2.9"/><circle cx="541.3" cy="206.6" r="2.9"/><circle cx="531.8" cy="207.3" r="2.9"/><circle cx="513.3" cy="213.4" r="2.9"/><circle cx="524.3" cy="211.5" r="2.9"/><circle cx="518.6" cy="215.7" r="2.9"/><circle cx="550" cy="206.6" r="2.9"/><circle cx="553.4" cy="211.1" r="2.9"/><circle cx="549.2" cy="214.5" r="2.9"/><circle cx="562.4" cy="205.8" r="2.9"/><circle cx="567" cy="203.6" r="2.9"/><circle cx="567" cy="207.3" r="2.9"/><circle cx="576.1" cy="202.8" r="2.9"/><circle cx="576.1" cy="205.4" r="2.9"/><circle cx="570" cy="213.8" r="2.9"/><circle cx="575.3" cy="213.8" r="2.9"/><circle cx="583.3" cy="200.2" r="2.9"/><circle cx="583.7" cy="208.1" r="2.9"/><circle cx="589.3" cy="207.3" r="2.9"/><circle cx="586.7" cy="211.9" r="2.9"/><circle cx="590.5" cy="211.9" r="2.9"/><circle cx="593.5" cy="199.8" r="2.9"/><circle cx="598.8" cy="201.7" r="2.9"/><circle cx="603.3" cy="210" r="2.9"/><circle cx="607.8" cy="209.2" r="2.9"/><circle cx="609.4" cy="213.4" r="2.9"/><circle cx="599.5" cy="215.7" r="2.9"/><circle cx="622" cy="180.4" r="2.9"/><circle cx="634.7" cy="180.4" r="2.9"/><circle cx="635.5" cy="184.4" r="2.9"/><circle cx="640.3" cy="184.7" r="2.9"/><circle cx="627.6" cy="184.4" r="2.9"/><circle cx="628.8" cy="189.5" r="2.9"/><circle cx="639.5" cy="191.5" r="2.9"/><circle cx="642.2" cy="192.6" r="2.9"/><circle cx="654.3" cy="188.4" r="2.9"/><circle cx="665.5" cy="189.5" r="2.9"/><circle cx="673.4" cy="182" r="2.9"/><circle cx="678.8" cy="182" r="2.9"/><circle cx="671.8" cy="193.9" r="2.9"/><circle cx="691.6" cy="188" r="2.9"/><circle cx="647.5" cy="199.2" r="2.9"/><circle cx="639.5" cy="202.7" r="2.9"/><circle cx="633.9" cy="202.7" r="2.9"/><circle cx="628.4" cy="205.9" r="2.9"/><circle cx="654.9" cy="204.8" r="2.9"/><circle cx="654.9" cy="207.5" r="2.9"/><circle cx="640.3" cy="211.8" r="2.9"/><circle cx="642.7" cy="211.4" r="2.9"/><circle cx="627.6" cy="214.9" r="2.9"/><circle cx="667" cy="215.4" r="2.9"/><circle cx="458.1" cy="221.8" r="2.9"/><circle cx="463.7" cy="230.1" r="2.9"/><circle cx="463.7" cy="232.4" r="2.9"/><circle cx="467.5" cy="230.4" r="2.9"/><circle cx="482.6" cy="218.8" r="2.9"/><circle cx="480.3" cy="223.3" r="2.9"/><circle cx="483.3" cy="224.1" r="2.9"/><circle cx="491.4" cy="218.8" r="2.9"/><circle cx="504.5" cy="217.3" r="2.9"/><circle cx="503" cy="220.3" r="2.9"/><circle cx="494.7" cy="226.9" r="2.9"/><circle cx="498.5" cy="230.1" r="2.9"/><circle cx="502.2" cy="231.6" r="2.9"/><circle cx="508" cy="230.9" r="2.9"/><circle cx="493.2" cy="236.5" r="2.9"/><circle cx="512.7" cy="218.7" r="2.9"/><circle cx="523.9" cy="218.7" r="2.9"/><circle cx="523.4" cy="226.6" r="2.9"/><circle cx="518.7" cy="230.3" r="2.9"/><circle cx="517.8" cy="235.5" r="2.9"/><circle cx="524.3" cy="233.1" r="2.9"/><circle cx="508.9" cy="230.3" r="2.9"/><circle cx="530.4" cy="236.4" r="2.9"/><circle cx="535.5" cy="219.1" r="2.9"/><circle cx="530.9" cy="224.3" r="2.9"/><circle cx="534.6" cy="225.2" r="2.9"/><circle cx="540.7" cy="224.3" r="2.9"/><circle cx="543.5" cy="225.2" r="2.9"/><circle cx="547.2" cy="222.9" r="2.9"/><circle cx="537.9" cy="231.7" r="2.9"/><circle cx="537.9" cy="235" r="2.9"/><circle cx="545.3" cy="230.8" r="2.9"/><circle cx="545.8" cy="234.5" r="2.9"/><circle cx="554.7" cy="227.1" r="2.9"/><circle cx="556.6" cy="218.2" r="2.9"/><circle cx="560.3" cy="219.6" r="2.9"/><circle cx="562.2" cy="228" r="2.9"/><circle cx="569.6" cy="219.6" r="2.9"/><circle cx="571" cy="224.3" r="2.9"/><circle cx="564.9" cy="226.1" r="2.9"/><circle cx="568.7" cy="234.5" r="2.9"/><circle cx="573.3" cy="232.7" r="2.9"/><circle cx="578.5" cy="226.6" r="2.9"/><circle cx="578.5" cy="234.5" r="2.9"/><circle cx="585.9" cy="224.7" r="2.9"/><circle cx="585.5" cy="229.9" r="2.9"/><circle cx="585.5" cy="233.1" r="2.9"/><circle cx="589.7" cy="229.4" r="2.9"/><circle cx="592" cy="232.7" r="2.9"/><circle cx="595.7" cy="235" r="2.9"/><circle cx="589.2" cy="236.4" r="2.9"/><circle cx="596.2" cy="222.9" r="2.9"/><circle cx="599.9" cy="217.3" r="2.9"/><circle cx="601.8" cy="224.3" r="2.9"/><circle cx="604.1" cy="227.1" r="2.9"/><circle cx="605.1" cy="230.3" r="2.9"/><circle cx="606" cy="236.4" r="2.9"/><circle cx="615.4" cy="219.6" r="2.9"/><circle cx="619.6" cy="224.7" r="2.9"/><circle cx="652.2" cy="218.1" r="2.9"/><circle cx="655.4" cy="216.8" r="2.9"/><circle cx="620.4" cy="225.5" r="2.9"/><circle cx="638.4" cy="225.1" r="2.9"/><circle cx="651.4" cy="224.4" r="2.9"/><circle cx="627.1" cy="231.1" r="2.9"/><circle cx="645.4" cy="230.6" r="2.9"/><circle cx="655.4" cy="230.6" r="2.9"/></g></g>
<path d="M23.5 0.5H359.0V237.0H23.5ZM37.48 237.0v-2.5M37.48 0.5v2.5M51.46 237.0v-2.5M51.46 0.5v2.5M65.44 237.0v-2.5M65.44 0.5v2.5M79.42 237.0v-5M79.42 0.5v5M93.4 237.0v-2.5M93.4 0.5v2.5M107.38 237.0v-2.5M107.38 0.5v2.5M121.35 237.0v-2.5M121.35 0.5v2.5M135.33 237.0v-5M135.33 0.5v5M149.31 237.0v-2.5M149.31 0.5v2.5M163.29 237.0v-2.5M163.29 0.5v2.5M177.27 237.0v-2.5M177.27 0.5v2.5M191.25 237.0v-5M191.25 0.5v5M205.23 237.0v-2.5M205.23 0.5v2.5M219.21 237.0v-2.5M219.21 0.5v2.5M233.19 237.0v-2.5M233.19 0.5v2.5M247.17 237.0v-5M247.17 0.5v5M261.15 237.0v-2.5M261.15 0.5v2.5M275.12 237.0v-2.5M275.12 0.5v2.5M289.1 237.0v-2.5M289.1 0.5v2.5M303.08 237.0v-5M303.08 0.5v5M317.06 237.0v-2.5M317.06 0.5v2.5M331.04 237.0v-2.5M331.04 0.5v2.5M345.02 237.0v-2.5M345.02 0.5v2.5M23.5 220.11h3.5M359.0 220.11h-3.5M23.5 203.21h3.5M359.0 203.21h-3.5M23.5 186.32h3.5M359.0 186.32h-3.5M23.5 169.43h7M359.0 169.43h-7M23.5 152.54h3.5M359.0 152.54h-3.5M23.5 135.64h3.5M359.0 135.64h-3.5M23.5 118.75h3.5M359.0 118.75h-3.5M23.5 101.86h7M359.0 101.86h-7M23.5 84.96h3.5M359.0 84.96h-3.5M23.5 68.07h3.5M359.0 68.07h-3.5M23.5 51.18h3.5M359.0 51.18h-3.5M23.5 34.29h7M359.0 34.29h-7M23.5 17.39h3.5M359.0 17.39h-3.5" fill="none" stroke="#c0c0c0" stroke-width="1"/>
<text x="23.5" y="249.2" class="tl" text-anchor="middle">0</text>
<text x="79.4" y="249.2" class="tl" text-anchor="middle">0.2</text>
<text x="135.3" y="249.2" class="tl" text-anchor="middle">0.4</text>
<text x="191.2" y="249.2" class="tl" text-anchor="middle">0.6</text>
<text x="247.2" y="249.2" class="tl" text-anchor="middle">0.8</text>
<text x="303.1" y="249.2" class="tl" text-anchor="middle">1</text>
<text x="359.0" y="249.2" class="tl" text-anchor="middle">1.2</text>
<text x="21.3" y="241.1" class="tl" text-anchor="end">0</text>
<text x="21.3" y="173.5" class="tl" text-anchor="end">2</text>
<text x="21.3" y="106.0" class="tl" text-anchor="end">4</text>
<text x="21.3" y="38.4" class="tl" text-anchor="end">6</text>
<path d="M398.5 0.5H735.5V238.1H398.5ZM412.54 238.1v-2.5M412.54 0.5v2.5M426.58 238.1v-2.5M426.58 0.5v2.5M440.62 238.1v-2.5M440.62 0.5v2.5M454.67 238.1v-5M454.67 0.5v5M468.71 238.1v-2.5M468.71 0.5v2.5M482.75 238.1v-2.5M482.75 0.5v2.5M496.79 238.1v-2.5M496.79 0.5v2.5M510.83 238.1v-5M510.83 0.5v5M524.88 238.1v-2.5M524.88 0.5v2.5M538.92 238.1v-2.5M538.92 0.5v2.5M552.96 238.1v-2.5M552.96 0.5v2.5M567.0 238.1v-5M567.0 0.5v5M581.04 238.1v-2.5M581.04 0.5v2.5M595.08 238.1v-2.5M595.08 0.5v2.5M609.12 238.1v-2.5M609.12 0.5v2.5M623.17 238.1v-5M623.17 0.5v5M637.21 238.1v-2.5M637.21 0.5v2.5M651.25 238.1v-2.5M651.25 0.5v2.5M665.29 238.1v-2.5M665.29 0.5v2.5M679.33 238.1v-5M679.33 0.5v5M693.38 238.1v-2.5M693.38 0.5v2.5M707.42 238.1v-2.5M707.42 0.5v2.5M721.46 238.1v-2.5M721.46 0.5v2.5M398.5 221.13h3.5M735.5 221.13h-3.5M398.5 204.16h3.5M735.5 204.16h-3.5M398.5 187.19h3.5M735.5 187.19h-3.5M398.5 170.21h7M735.5 170.21h-7M398.5 153.24h3.5M735.5 153.24h-3.5M398.5 136.27h3.5M735.5 136.27h-3.5M398.5 119.3h3.5M735.5 119.3h-3.5M398.5 102.33h7M735.5 102.33h-7M398.5 85.36h3.5M735.5 85.36h-3.5M398.5 68.39h3.5M735.5 68.39h-3.5M398.5 51.41h3.5M735.5 51.41h-3.5M398.5 34.44h7M735.5 34.44h-7M398.5 17.47h3.5M735.5 17.47h-3.5" fill="none" stroke="#c0c0c0" stroke-width="1"/>
<text x="398.5" y="250.3" class="tl" text-anchor="middle">2</text>
<text x="454.7" y="250.3" class="tl" text-anchor="middle">4</text>
<text x="510.8" y="250.3" class="tl" text-anchor="middle">6</text>
<text x="567.0" y="250.3" class="tl" text-anchor="middle">8</text>
<text x="623.2" y="250.3" class="tl" text-anchor="middle">10</text>
<text x="679.3" y="250.3" class="tl" text-anchor="middle">12</text>
<text x="735.5" y="250.3" class="tl" text-anchor="middle">14</text>
<text x="396.3" y="242.2" class="tl" text-anchor="end">0</text>
<text x="396.3" y="174.3" class="tl" text-anchor="end">2</text>
<text x="396.3" y="106.4" class="tl" text-anchor="end">4</text>
<text x="396.3" y="38.5" class="tl" text-anchor="end">6</text>
<g fill="none" stroke="#8c8c8c" stroke-width="1.1" stroke-linecap="round">
<path d="M46.5 13.6A17.4 17.4 0 0 0 46.5 38.6M67.9 13.6A17.4 17.4 0 0 1 67.9 38.6"/>
<path d="M52 24.3C52.6 22 54.3 21.2 56.6 21.2C59.6 21.2 61.3 22.6 61.3 25.2L61.3 31.2C61.3 32.3 61.8 32.9 62.6 32.9M61.3 26.6C59.5 27.3 56.5 27.4 54.5 27.8C52.5 28.2 51.4 29.2 51.4 30.6C51.4 32.1 52.8 32.9 54.7 32.9C57.5 32.9 60 31.8 61.3 29.8"/>
<path d="M421.5 13.6A17.4 17.4 0 0 0 421.5 38.6M443.7 13.6A17.4 17.4 0 0 1 443.7 38.6"/>
<path d="M425.4 16.4H428V32.6M428 24.5C429.2 22.2 431 21.2 433.1 21.2C436.2 21.2 438.4 23.8 438.4 27.4C438.4 31 436.2 33.5 433.1 33.5C431 33.5 429.2 32.6 428 30.5" stroke-linecap="butt"/>
</g>
<text x="132.6" y="265.4" class="at" textLength="61.6" lengthAdjust="spacingAndGlyphs">Separation</text>
<text x="203.4" y="265.4" class="at" textLength="45.6" lengthAdjust="spacingAndGlyphs">[arcsec]</text>
<text x="488.2" y="266.2" class="at" textLength="115" lengthAdjust="spacingAndGlyphs">System V Magnitude</text>
<text x="612.6" y="266.2" class="at" textLength="33.4" lengthAdjust="spacingAndGlyphs">[mag]</text>
<g transform="translate(9 0) rotate(-90)">
<text x="-200.6" y="0" class="at" textLength="58.3" lengthAdjust="spacingAndGlyphs">Magnitude</text>
<text x="-138.3" y="0" class="at" textLength="57.3" lengthAdjust="spacingAndGlyphs">Difference</text>
<text x="-70.3" y="0" class="at" textLength="33" lengthAdjust="spacingAndGlyphs">[mag]</text>
</g>
<g transform="translate(383.5 0.5) rotate(-90)">
<text x="-200.6" y="0" class="at" textLength="58.3" lengthAdjust="spacingAndGlyphs">Magnitude</text>
<text x="-138.3" y="0" class="at" textLength="57.3" lengthAdjust="spacingAndGlyphs">Difference</text>
<text x="-70.3" y="0" class="at" textLength="33" lengthAdjust="spacingAndGlyphs">[mag]</text>
</g>
</svg>
</body></html>
